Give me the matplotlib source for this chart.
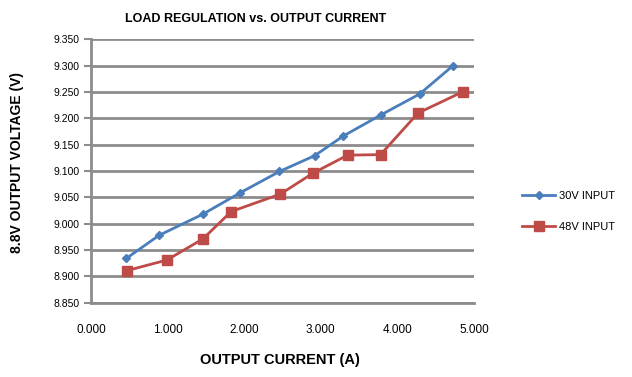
import matplotlib.pyplot as plt
from matplotlib.ticker import MultipleLocator, FormatStrFormatter

plt.rcParams['font.family'] = ['Liberation Sans', 'DejaVu Sans']

# 30V input
x_30v = [0.46, 0.89, 1.46, 1.94, 2.46, 2.92, 3.29, 3.78, 4.29, 4.72]
v_30v = [8.934, 8.978, 9.018, 9.058, 9.099, 9.129, 9.166, 9.206, 9.246, 9.299]

# 48V input
x_48v = [0.47, 0.99, 1.46, 1.83, 2.47, 2.90, 3.35, 3.78, 4.27, 4.85]
v_48v = [8.911, 8.931, 8.971, 9.023, 9.056, 9.096, 9.130, 9.131, 9.210, 9.250]

labels = ["30V INPUT", "48V INPUT"]

fig = plt.figure(figsize=(6.32, 3.77), dpi=100)
ax = fig.add_axes([0.144, 0.197, 0.606, 0.699])

ax.plot(x_30v, v_30v, color='#4a7ebb', marker='D', markersize=4, linewidth=2, label=labels[0])
ax.plot(x_48v, v_48v, color='#be4b48', marker='s', markersize=7, linewidth=2, label=labels[1])

ax.set_xlim(0, 5)
ax.set_ylim(8.85, 9.35)
ax.xaxis.set_major_locator(MultipleLocator(1))
ax.yaxis.set_major_locator(MultipleLocator(0.05))
ax.xaxis.set_major_formatter(FormatStrFormatter('%.3f'))
ax.yaxis.set_major_formatter(FormatStrFormatter('%.3f'))
ax.grid(axis='y', color='#8c8c8c', linewidth=2)
ax.set_axisbelow(True)
for s in ['top', 'right']:
    ax.spines[s].set_visible(False)
for s in ['left', 'bottom']:
    ax.spines[s].set_color('#8c8c8c')
    ax.spines[s].set_linewidth(2)
ax.tick_params(axis='y', length=5, width=1.5, color='#8c8c8c', labelsize=7.5, pad=3)
ax.tick_params(axis='x', length=0, labelsize=8.5, pad=15)

fig.text(256 / 632, 1 - 19 / 377, "LOAD REGULATION vs. OUTPUT CURRENT",
         ha='center', va='center', fontsize=9, fontweight='bold')
fig.text(17 / 632, 1 - 163 / 377, "8.8V OUTPUT VOLTAGE (V)", rotation=90,
         ha='center', va='center', fontsize=10, fontweight='bold')
fig.text(280 / 632, 1 - 360 / 377, "OUTPUT CURRENT (A)",
         ha='center', va='center', fontsize=10.5, fontweight='bold')

fig.legend(loc='center left', bbox_to_anchor=(0.81, 0.44), frameon=False,
           fontsize=8, handlelength=3, labelspacing=1.9, handletextpad=0.3)

fig.savefig("out.png", dpi=100)
